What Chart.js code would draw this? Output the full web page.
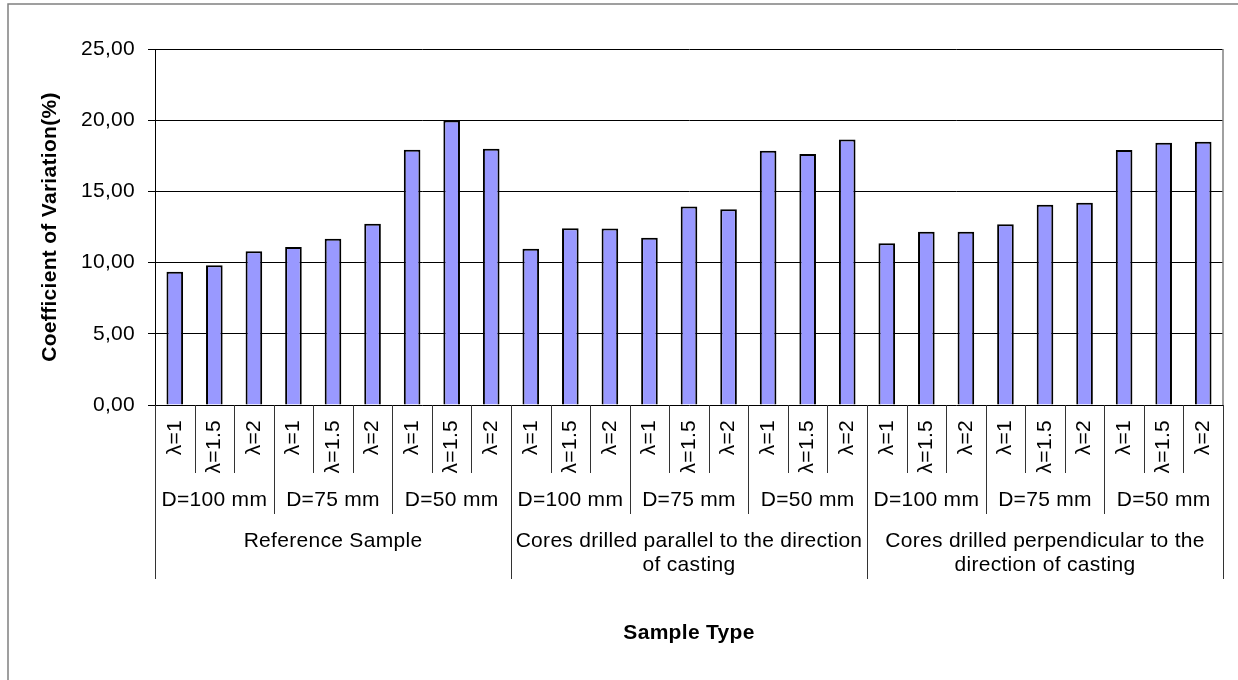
<!DOCTYPE html>
<html>
<head>
<meta charset="utf-8">
<script src="https://cdn.jsdelivr.net/npm/chart.js@4.4.0/dist/chart.umd.min.js"></script>
<style>
  html, body { margin: 0; padding: 0; background: #fff; }
</style>
</head>
<body>
<canvas id="cvChart" width="1238" height="680"></canvas>
<script>
// category levels (inner to outer)
const slenderness = ["λ=1", "λ=1.5", "λ=2"];
const diameters = ["D=100 mm", "D=75 mm", "D=50 mm"];
const sampleTypes = [
  ["Reference Sample"],
  ["Cores drilled parallel to the direction", "of casting"],
  ["Cores drilled perpendicular to the", "direction of casting"]
];

// coefficient of variation (%) per sample type, ordered D=100/75/50 x λ=1/1.5/2
const cvReference = [9.35, 9.82, 10.80, 11.10, 11.67, 12.72, 17.93, 19.98, 18.00];
const cvParallel = [10.97, 12.42, 12.40, 11.74, 13.94, 13.75, 17.86, 17.62, 18.65];
const cvPerpendicular = [11.36, 12.16, 12.16, 12.70, 14.06, 14.20, 17.90, 18.42, 18.49];

const yTicks = [0, 5, 10, 15, 20, 25];

const labels = [];
sampleTypes.forEach(s => diameters.forEach(d => slenderness.forEach(l => labels.push(l))));
const values = cvReference.concat(cvParallel, cvPerpendicular);

const FONT = '"Liberation Sans", Arial, sans-serif';
const SPACING = '0.3px';

// draws the frame and the three-level category axis under the plot
const multiLevelAxis = {
  id: 'multiLevelAxis',
  beforeDraw(chart) {
    chart.ctx.letterSpacing = SPACING;
  },
  afterDraw(chart) {
    const ctx = chart.ctx;
    const x = chart.scales.x;
    const area = chart.chartArea;
    const n = labels.length;
    const step = (area.right - area.left) / n;
    ctx.save();
    ctx.letterSpacing = SPACING;

    // outer frame
    ctx.strokeStyle = '#808080';
    ctx.lineWidth = 1.5;
    ctx.beginPath();
    ctx.moveTo(8, 700); ctx.lineTo(8, 4); ctx.lineTo(1250, 4);
    ctx.stroke();

    // plot right border
    ctx.beginPath();
    ctx.moveTo(area.right, area.top); ctx.lineTo(area.right, area.bottom);
    ctx.stroke();

    // separators
    ctx.strokeStyle = '#333';
    ctx.lineWidth = 1;
    for (let i = 0; i <= n; i++) {
      let end = 473;
      if (i % 3 === 0) end = 514;
      if (i % 9 === 0) end = 579;
      const px = Math.round(area.left + i * step) + 0.5;
      ctx.beginPath();
      ctx.moveTo(px, area.bottom); ctx.lineTo(px, end);
      ctx.stroke();
    }

    ctx.fillStyle = '#000';
    ctx.font = '21px ' + FONT;

    // λ labels, rotated
    labels.forEach((lab, i) => {
      ctx.save();
      ctx.translate(x.getPixelForValue(i), 420);
      ctx.rotate(-Math.PI / 2);
      ctx.textAlign = 'right';
      ctx.textBaseline = 'middle';
      ctx.fillText(lab, 0, 0);
      ctx.restore();
    });

    ctx.textAlign = 'center';
    ctx.textBaseline = 'middle';

    // diameter labels
    for (let g = 0; g < 9; g++) {
      const cx = (x.getPixelForValue(g * 3) + x.getPixelForValue(g * 3 + 2)) / 2;
      ctx.fillText(diameters[g % 3], cx, 500);
    }

    // sample type labels
    sampleTypes.forEach((lines, g) => {
      const cx = (x.getPixelForValue(g * 9) + x.getPixelForValue(g * 9 + 8)) / 2;
      lines.forEach((t, k) => ctx.fillText(t, cx, 541 + k * 24));
    });

    // axis title
    ctx.font = 'bold 21px ' + FONT;
    ctx.fillText('Sample Type', (area.left + area.right) / 2, 633);

    ctx.restore();
  }
};

new Chart(document.getElementById('cvChart'), {
  type: 'bar',
  data: {
    labels: labels,
    datasets: [{
      data: values,
      backgroundColor: '#9999FF',
      borderColor: '#000',
      borderWidth: 2,
      barPercentage: 0.42,
      categoryPercentage: 1
    }]
  },
  options: {
    responsive: false,
    animation: false,
    devicePixelRatio: 1,
    layout: { padding: { left: 30, top: 49, right: 15, bottom: 275 } },
    plugins: { legend: { display: false }, tooltip: { enabled: false } },
    scales: {
      x: { display: false },
      y: {
        min: 0,
        max: 25,
        afterFit: s => { s.width = 125; },
        afterBuildTicks: s => { s.ticks = yTicks.map(v => ({ value: v })); },
        ticks: {
          padding: 13,
          color: '#000',
          font: { family: FONT, size: 21 },
          callback: v => v.toFixed(2).replace('.', ',')
        },
        grid: { color: '#000', lineWidth: 1, tickLength: 7 },
        border: { color: '#000', width: 1 },
        title: {
          display: true,
          text: 'Coefficient of Variation(%)',
          color: '#000',
          font: { family: FONT, size: 21, weight: 'bold' },
          padding: { top: 8, bottom: 4 }
        }
      }
    }
  },
  plugins: [multiLevelAxis]
});
</script>
</body>
</html>
